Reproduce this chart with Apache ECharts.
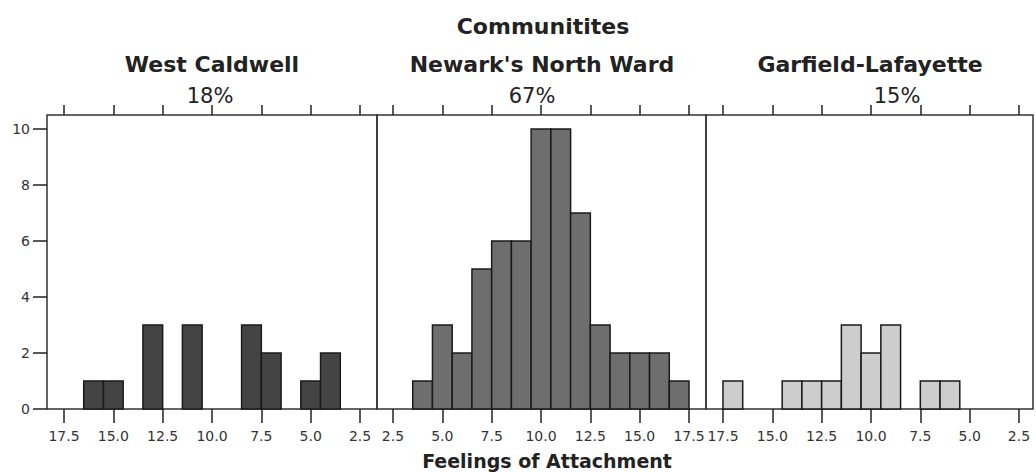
<!DOCTYPE html>
<html>
<head>
<meta charset="utf-8">
<title>Feelings of Attachment by Community</title>
<script src="https://cdn.jsdelivr.net/npm/echarts@6/dist/echarts.min.js"></script>
<style>
  html, body { margin: 0; padding: 0; background: #fff; }
  #chart { width: 1036px; height: 472px; }
</style>
</head>
<body>
<div id="chart"></div>
<script>
// bin centres and counts, one pair per community
const westCaldwellBins = [16, 15, 13, 11, 8, 7, 5, 4]
const westCaldwellCounts = [1, 1, 3, 3, 3, 2, 1, 2]
const newarkBins = [4, 5, 6, 7, 8, 9, 10, 11, 12, 13, 14, 15, 16, 17]
const newarkCounts = [1, 3, 2, 5, 6, 6, 10, 10, 7, 3, 2, 2, 2, 1]
const garfieldBins = [17, 14, 13, 12, 11, 10, 9, 7, 6]
const garfieldCounts = [1, 1, 1, 1, 3, 2, 3, 1, 1]

const panelNames = ['West Caldwell', "Newark's North Ward", 'Garfield-Lafayette']
const panelShares = ['18%', '67%', '15%']
const xTicks = [2.5, 5, 7.5, 10, 12.5, 15, 17.5]
const yTicks = [0, 2, 4, 6, 8, 10]

const FONT = '"DejaVu Sans", "Liberation Sans", sans-serif'
const INK = '#222'

const panels = [
  { bins: westCaldwellBins, counts: westCaldwellCounts, fill: '#444', left: 47, width: 330, min: 1.64, max: 18.36, inverse: true },
  { bins: newarkBins, counts: newarkCounts, fill: '#6e6e6e', left: 377, width: 329, min: 1.69, max: 18.36, inverse: false },
  { bins: garfieldBins, counts: garfieldCounts, fill: '#cdcdcd', left: 706, width: 327, min: 1.79, max: 18.36, inverse: true }
]

const chart = echarts.init(document.getElementById('chart'), null, { renderer: 'svg' })

const grids = []
const xAxes = []
const yAxes = []
const series = []

panels.forEach((p, i) => {
  grids.push({
    left: p.left, top: 115, width: p.width, height: 294,
    show: true, borderColor: '#333', borderWidth: 1.5, backgroundColor: 'transparent'
  })
  // bottom axis with labels
  xAxes.push({
    type: 'value', gridIndex: i, min: p.min, max: p.max, inverse: p.inverse,
    position: 'bottom',
    axisLine: { show: false },
    splitLine: { show: false },
    axisTick: { show: true, length: 14, customValues: xTicks, lineStyle: { color: INK, width: 1.5 } },
    axisLabel: {
      customValues: xTicks, margin: 20, color: '#333', fontFamily: FONT, fontSize: 14,
      formatter: v => v.toFixed(1)
    }
  })
  // top axis, ticks only
  xAxes.push({
    type: 'value', gridIndex: i, min: p.min, max: p.max, inverse: p.inverse,
    position: 'top',
    axisLine: { show: false },
    splitLine: { show: false },
    axisTick: { show: true, length: 10, customValues: xTicks, lineStyle: { color: INK, width: 1.5 } },
    axisLabel: { show: false }
  })
  yAxes.push({
    type: 'value', gridIndex: i, min: 0, max: 10.5,
    axisLine: { show: false },
    splitLine: { show: false },
    axisTick: { show: i === 0, length: 14, customValues: yTicks, lineStyle: { color: INK, width: 1.5 } },
    axisLabel: { show: i === 0, customValues: yTicks, margin: 17, color: '#333', fontFamily: FONT, fontSize: 14 }
  })
  series.push({
    type: 'custom',
    xAxisIndex: i * 2,
    yAxisIndex: i,
    encode: { x: 0, y: 1 },
    data: p.bins.map((b, k) => [b, p.counts[k]]),
    renderItem(params, api) {
      const x = api.value(0)
      const y = api.value(1)
      const a = api.coord([x - 0.5, y])
      const b = api.coord([x + 0.5, 0])
      return {
        type: 'rect',
        shape: { x: Math.min(a[0], b[0]), y: a[1], width: Math.abs(b[0] - a[0]), height: b[1] - a[1] },
        style: { fill: p.fill, stroke: '#1a1a1a', lineWidth: 1.5 }
      }
    }
  })
})

const centers = [212, 542, 870]
const shareX = [210, 532, 897]
const texts = [
  { text: 'Communitites', x: 543, y: 26, font: 'bold 22px ' + FONT },
  { text: 'Feelings of Attachment', x: 547, y: 461, font: 'bold 19px ' + FONT }
]
panelNames.forEach((n, i) => {
  texts.push({ text: n, x: centers[i], y: 64, font: 'bold 22px ' + FONT })
  texts.push({ text: panelShares[i], x: shareX[i], y: 96, font: '21px ' + FONT })
})

chart.setOption({
  animation: false,
  backgroundColor: '#fff',
  grid: grids,
  xAxis: xAxes,
  yAxis: yAxes,
  series: series,
  graphic: texts.map(t => ({
    type: 'text', x: t.x, y: t.y, silent: true,
    style: { text: t.text, font: t.font, fill: INK, align: 'center', verticalAlign: 'middle' }
  }))
})
</script>
</body>
</html>
